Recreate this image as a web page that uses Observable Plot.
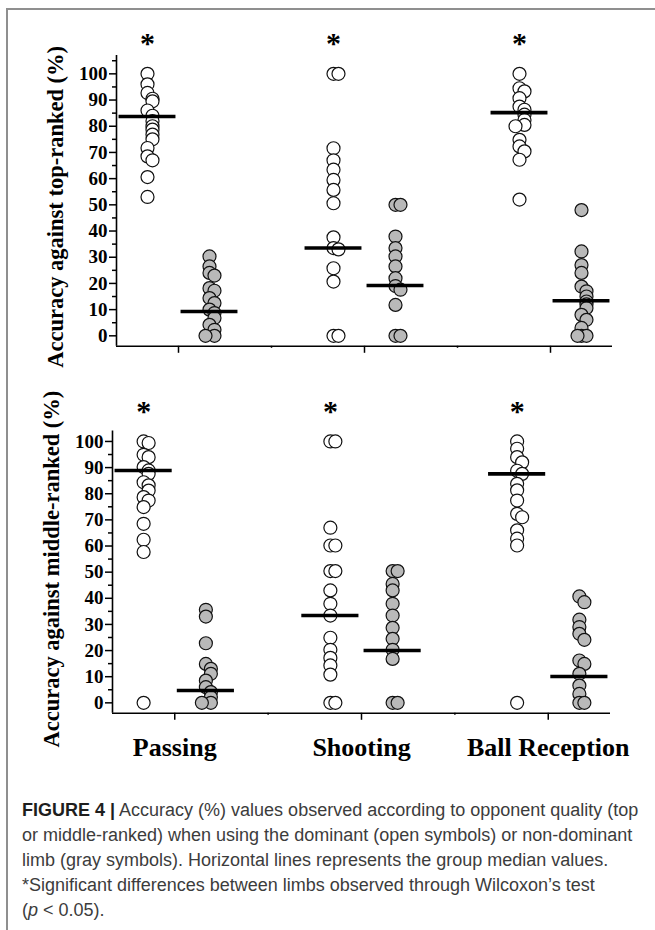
<!DOCTYPE html>
<html>
<head>
<meta charset="utf-8">
<script src="https://cdn.jsdelivr.net/npm/d3@7"></script>
<script src="https://cdn.jsdelivr.net/npm/@observablehq/plot@0.6"></script>
<style>
html, body { margin: 0; padding: 0; background: #fff; }
#page { position: relative; width: 655px; height: 930px; overflow: hidden; }
#frame { position: absolute; left: 6px; top: 8px; right: -10px; bottom: -10px;
  border-left: 2px solid #8f8f8f; border-top: 2px solid #8f8f8f; }
#top { position: absolute; left: 0; top: 0; }
#bottom { position: absolute; left: 0; top: 370px; }
#caption { position: absolute; left: 22px; top: 798px; font-family: "Liberation Sans", Arial, sans-serif;
  font-size: 18px; line-height: 25px; color: #3c3c3c; white-space: nowrap; }
#caption b { color: #1e1e1e; }
</style>
</head>
<body>
<div id="page">
  <div id="frame"></div>
  <div id="top"></div>
  <div id="bottom"></div>
  <div id="caption"><b>FIGURE 4 |</b> Accuracy (%) values observed according to opponent quality (top<br>or middle-ranked) when using the dominant (open symbols) or non-dominant<br>limb (gray symbols). Horizontal lines represents the group median values.<br>*Significant differences between limbs observed through Wilcoxon’s test<br>(<i>p</i> &lt; 0.05).</div>
</div>
<script>
// ---- categories and labels ----
const categories = ["Passing", "Shooting", "Ball Reception"];
const yTicks = [0, 10, 20, 30, 40, 50, 60, 70, 80, 90, 100];
const significant = ["Passing", "Shooting", "Ball Reception"];
const labelTop = "Accuracy against top-ranked (%)";
const labelBottom = "Accuracy against middle-ranked (%)";

// ---- against top-ranked opponents ----
const topPassingDominant = [100, 96, 92.7, 90.5, 89.5, 86, 84, 82, 80, 78.7, 76.8, 75, 71.7, 68.5, 67, 60.6, 53];
const topPassingNonDominant = [30.3, 26.5, 24, 23, 18.2, 17.2, 14.4, 12.5, 10, 8.7, 6.8, 4.2, 2.3, 0, 0];
const topShootingDominant = [100, 100, 71.6, 67, 63.4, 59.5, 55.7, 50.6, 37.6, 33.5, 33, 25.8, 20.7, 0, 0];
const topShootingNonDominant = [50, 50, 37.9, 33.5, 30.3, 26.5, 22, 19, 17.6, 11.8, 0, 0];
const topBallDominant = [100, 94.5, 93.3, 90.7, 87.5, 86.3, 84.4, 82.4, 80.5, 80, 74.8, 72.3, 70.4, 67.2, 52];
const topBallNonDominant = [48, 32.2, 27, 24, 18.8, 17, 15, 13.1, 12, 10.6, 8, 6.1, 3, 0, 0, 0];
const topMedianDominant = [83.7, 33.5, 85.2];
const topMedianNonDominant = [9.3, 19.2, 13.4];

// ---- against middle-ranked opponents ----
const midPassingDominant = [100, 99.4, 94.9, 94, 90.2, 88.9, 87.6, 84.4, 83.2, 81.2, 78.7, 77.4, 74.9, 68.5, 62.4, 57.7, 0];
const midPassingNonDominant = [35.6, 33, 22.8, 14.9, 13, 11.1, 8.5, 6, 4.1, 2.2, 0, 0];
const midShootingDominant = [100, 100, 67, 60.2, 60.2, 50.4, 50.4, 43, 37.9, 33.4, 24.9, 20.3, 17.2, 14.3, 10.8, 0, 0];
const midShootingNonDominant = [50.4, 50.4, 45.5, 43, 37.9, 33.4, 28.7, 24.5, 20.3, 16.8, 0, 0];
const midBallDominant = [100, 97.2, 94, 92, 88.8, 87.6, 83.8, 81.3, 77.4, 72.3, 71, 66, 62.8, 60.2, 0];
const midBallNonDominant = [40.7, 38.5, 31.8, 29, 26.4, 24.1, 16.2, 14.9, 11.1, 6.6, 3.4, 0, 0];
const midMedianDominant = [88.9, 33.4, 87.6];
const midMedianNonDominant = [4.7, 20, 10.1];

// ---- helpers ----
const GROUP_OFFSET = 1 / 6;      // dominant left, non-dominant right of each category
const MEDIAN_HALF = 0.153;        // half length of median bar (x units)
const PX_PER_UNIT = 186.5;
const jitterPx = [0, 5, -4, 3, -2, 6];

function spread(values, center) {
  const sorted = [...values].sort((a, b) => b - a);
  return sorted.map((v, i) => {
    const k = sorted.slice(0, i).filter(u => Math.abs(u - v) < 2.5).length;
    return {v, x: center + jitterPx[k % jitterPx.length] / PX_PER_UNIT};
  });
}

function buildPanel(opts) {
  const {dom, non, medDom, medNon, label, withLabels, marginLeft, marginRight, marginTop, marginBottom, height, yMax, minorTop, labelDy} = opts;
  const domRows = dom.flatMap((vals, i) => spread(vals, i + 1 - GROUP_OFFSET));
  const nonRows = non.flatMap((vals, i) => spread(vals, i + 1 + GROUP_OFFSET));
  const medRows = [
    ...medDom.map((v, i) => ({v, c: i + 1 - GROUP_OFFSET})),
    ...medNon.map((v, i) => ({v, c: i + 1 + GROUP_OFFSET}))
  ];
  const minorY = d3.range(5, minorTop + 1, 10);
  return Plot.plot({
    width: 655, height, marginLeft, marginRight, marginTop, marginBottom,
    style: {fontFamily: '"Liberation Serif", "Times New Roman", serif', color: "#000", background: "transparent", overflow: "visible"},
    x: {domain: [2 / 3, 10 / 3], label: null},
    y: {domain: [-4, yMax], label: null},
    marks: [
      Plot.axisY({ticks: yTicks, tickSize: 7, tickPadding: 2, tickFormat: d => String(d), fontSize: 19, fontWeight: "bold", strokeWidth: 1.5}),
      Plot.axisY({ticks: minorY, tickSize: 4, tickFormat: () => "", strokeWidth: 1.5}),
      Plot.axisX({ticks: [1, 2, 3], tickSize: 7, tickPadding: 17, strokeWidth: 1.5,
        tickFormat: withLabels ? (d => categories[d - 1]) : (() => ""), fontSize: 26, fontWeight: "bold"}),
      Plot.axisX({ticks: [1.5, 2.5], tickSize: 2, tickFormat: () => "", strokeWidth: 1.5}),
      Plot.ruleX([2 / 3], {stroke: "#000", strokeWidth: 1.6}),
      Plot.ruleY([-4], {stroke: "#000", strokeWidth: 1.6}),
      Plot.dot(domRows, {x: "x", y: "v", r: 6.5, fill: "#fff", stroke: "#111", strokeWidth: 1.2}),
      Plot.dot(nonRows, {x: "x", y: "v", r: 6.5, fill: "#b9b9b9", stroke: "#111", strokeWidth: 1.2}),
      Plot.ruleY(medRows, {y: "v", x1: d => d.c - MEDIAN_HALF, x2: d => d.c + MEDIAN_HALF, stroke: "#000", strokeWidth: 3.6}),
      Plot.text(significant, {x: d => categories.indexOf(d) + 1 - GROUP_OFFSET, y: () => 100, text: () => "*",
        dy: -30, fontSize: 30, fontWeight: "bold"}),
      Plot.text([label], {frameAnchor: "left", textAnchor: "middle", rotate: -90, dx: -61, dy: labelDy, fontSize: 22.5, fontWeight: "bold"})
    ]
  });
}

document.getElementById("top").append(buildPanel({
  dom: [topPassingDominant, topShootingDominant, topBallDominant],
  non: [topPassingNonDominant, topShootingNonDominant, topBallNonDominant],
  medDom: topMedianDominant, medNon: topMedianNonDominant,
  label: labelTop, withLabels: false,
  marginLeft: 116, marginRight: 43, marginTop: 55, marginBottom: 24.2, height: 370,
  yMax: 107, minorTop: 105, labelDy: 6
}));

document.getElementById("bottom").append(buildPanel({
  dom: [midPassingDominant, midShootingDominant, midBallDominant],
  non: [midPassingNonDominant, midShootingNonDominant, midBallNonDominant],
  medDom: midMedianDominant, medNon: midMedianNonDominant,
  label: labelBottom, withLabels: true,
  marginLeft: 112, marginRight: 45, marginTop: 60.5, marginBottom: 57.2, height: 400,
  yMax: 104, minorTop: 95, labelDy: -3
}));
</script>
</body>
</html>
